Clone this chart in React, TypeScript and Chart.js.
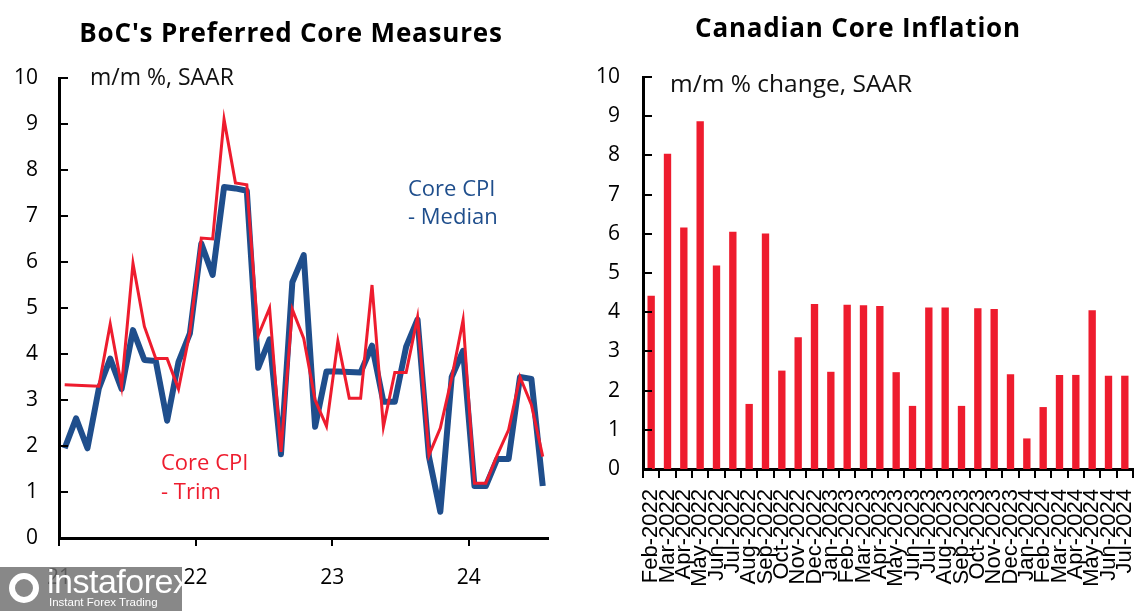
import React, { useEffect, useRef } from "react";
import { Chart, registerables } from "chart.js";

Chart.register(...registerables);

// ---------- Left panel data (monthly, Jan 2021 – Jul 2024) ----------
const months = [
  "2021-01", "2021-02", "2021-03", "2021-04", "2021-05", "2021-06", "2021-07", "2021-08", "2021-09", "2021-10", "2021-11", "2021-12",
  "2022-01", "2022-02", "2022-03", "2022-04", "2022-05", "2022-06", "2022-07", "2022-08", "2022-09", "2022-10", "2022-11", "2022-12",
  "2023-01", "2023-02", "2023-03", "2023-04", "2023-05", "2023-06", "2023-07", "2023-08", "2023-09", "2023-10", "2023-11", "2023-12",
  "2024-01", "2024-02", "2024-03", "2024-04", "2024-05", "2024-06", "2024-07",
];

const medianValues = [
  1.95, 2.6, 1.95, 3.25, 3.9, 3.24, 4.52, 3.87, 3.85, 2.55, 3.83, 4.45,
  6.4, 5.72, 7.63, 7.6, 7.55, 3.7, 4.32, 1.82, 5.56, 6.15, 2.42, 3.62,
  3.62, 3.61, 3.6, 4.18, 2.96, 2.96, 4.16, 4.75, 1.77, 0.57, 3.5, 4.07,
  1.13, 1.13, 1.72, 1.72, 3.5, 3.46, 1.13,
];

const trimValues = [
  3.33, 3.32, 3.31, 3.3, 4.65, 3.3, 5.97, 4.6, 3.9, 3.9, 3.24, 4.48,
  6.52, 6.5, 9.1, 7.72, 7.68, 4.4, 5.0, 1.87, 4.97, 4.34, 3.0, 2.43,
  4.28, 3.04, 3.04, 5.5, 2.42, 3.6, 3.6, 4.8, 1.8, 2.39, 3.48, 4.74,
  1.19, 1.19, 1.8, 2.35, 3.5, 2.9, 1.77,
];

const yearTicks = [21, 22, 23, 24];

// ---------- Right panel data ----------
const barLabels = [
  "Feb-2022", "Mar-2022", "Apr-2022", "May-2022", "Jun-2022", "Jul-2022", "Aug-2022", "Sep-2022", "Oct-2022", "Nov-2022", "Dec-2022",
  "Jan-2023", "Feb-2023", "Mar-2023", "Apr-2023", "May-2023", "Jun-2023", "Jul-2023", "Aug-2023", "Sep-2023", "Oct-2023", "Nov-2023", "Dec-2023",
  "Jan-2024", "Feb-2024", "Mar-2024", "Apr-2024", "May-2024", "Jun-2024", "Jul-2024",
];

const barValues = [
  4.42, 8.04, 6.16, 8.87, 5.19, 6.05, 1.66, 6.01, 2.51, 3.36, 4.21,
  2.48, 4.19, 4.18, 4.16, 2.47, 1.61, 4.12, 4.12, 1.61, 4.1, 4.08, 2.42,
  0.78, 1.58, 2.4, 2.4, 4.05, 2.38, 2.38,
];

const BLUE = "#1f4e8c";
const RED = "#ee1c2e";
const FONT = "'Open Sans', 'Noto Sans', sans-serif";

const toYear = (s: string) => {
  const [y, m] = s.split("-").map(Number);
  return y - 2000 + (m - 0.5) / 12;
};

type TextItem = {
  text: string;
  x: number;
  y: number;
  size: number;
  weight?: string;
  color: string;
  align: CanvasTextAlign;
  spacing?: number;
};

const textPlugin = (items: TextItem[]) => ({
  id: "texts",
  afterDraw(chart: any) {
    const ctx = chart.ctx as any;
    ctx.save();
    items.forEach((it) => {
      ctx.font = `${it.weight || "400"} ${it.size}px ${FONT}`;
      ctx.fillStyle = it.color;
      ctx.textAlign = it.align;
      ctx.textBaseline = "middle";
      ctx.letterSpacing = `${it.spacing || 0}px`;
      ctx.fillText(it.text, it.x, it.y);
    });
    ctx.letterSpacing = "0px";
    ctx.restore();
  },
});

const inwardTicks = {
  id: "inwardTicks",
  afterDraw(chart: any) {
    const { ctx, chartArea } = chart;
    const ys = chart.scales.y;
    ctx.save();
    ctx.strokeStyle = "#000";
    ctx.lineWidth = 2;
    ys.ticks.forEach((t: any) => {
      const p = Math.round(ys.getPixelForValue(t.value));
      ctx.beginPath();
      ctx.moveTo(chartArea.left, p);
      ctx.lineTo(chartArea.left + 9, p);
      ctx.stroke();
    });
    ctx.restore();
  },
};

export default function App() {
  const leftRef = useRef<HTMLCanvasElement>(null);
  const rightRef = useRef<HTMLCanvasElement>(null);

  useEffect(() => {
    document.body.style.margin = "0";
    const tickFont = { family: FONT, size: 21 };

    const left = new Chart(leftRef.current!, {
      type: "line",
      data: {
        datasets: [
          {
            label: "Core CPI - Median",
            data: months.map((m, i) => ({ x: toYear(m), y: medianValues[i] })),
            borderColor: BLUE,
            borderWidth: 6,
            pointRadius: 0,
            tension: 0,
            borderJoinStyle: "round",
            order: 2,
          },
          {
            label: "Core CPI - Trim",
            data: months.map((m, i) => ({ x: toYear(m), y: trimValues[i] })),
            borderColor: RED,
            borderWidth: 3,
            pointRadius: 0,
            tension: 0,
            order: 1,
          },
        ],
      },
      options: {
        animation: false,
        responsive: false,
        layout: { padding: { top: 78, right: 27, left: 0, bottom: 0 } },
        plugins: { legend: { display: false }, tooltip: { enabled: false }, title: { display: false } },
        scales: {
          x: {
            type: "linear",
            min: 21,
            max: 24.58,
            afterBuildTicks: (s: any) => {
              s.ticks = yearTicks.map((v) => ({ value: v }));
            },
            afterFit: (s: any) => {
              s.height = 73;
            },
            ticks: { font: tickFont, color: "#000", padding: 19, callback: (v: any) => String(v) },
            grid: { display: true, drawOnChartArea: false, drawTicks: true, tickLength: 8, color: "#000", lineWidth: 2 },
            border: { display: true, color: "#000", width: 3 },
          },
          y: {
            min: 0,
            max: 10,
            afterFit: (s: any) => {
              s.width = 59;
            },
            ticks: { stepSize: 1, font: tickFont, color: "#000", padding: 21 },
            grid: { display: false, drawTicks: false },
            border: { display: true, color: "#000", width: 3 },
          },
        },
      },
      plugins: [
        inwardTicks,
        textPlugin([
          { text: "BoC's Preferred Core Measures", x: 291, y: 35, size: 26, weight: "700", color: "#000", align: "center", spacing: 0.8 },
          { text: "m/m %, SAAR", x: 90, y: 78, size: 23, color: "#111", align: "left" },
          { text: "Core CPI", x: 408, y: 190, size: 22, color: BLUE, align: "left" },
          { text: "- Median", x: 408, y: 218, size: 22, color: BLUE, align: "left" },
          { text: "Core CPI", x: 161, y: 464, size: 22, color: RED, align: "left" },
          { text: "- Trim", x: 161, y: 493, size: 22, color: RED, align: "left" },
        ]),
      ],
    } as any);

    const right = new Chart(rightRef.current!, {
      type: "bar",
      data: {
        labels: barLabels,
        datasets: [
          {
            label: "Canadian Core Inflation",
            data: barValues,
            backgroundColor: RED,
            barPercentage: 0.9,
            categoryPercentage: 0.5,
          },
        ],
      },
      options: {
        animation: false,
        responsive: false,
        layout: { padding: { top: 77, right: 11, left: 0, bottom: 0 } },
        plugins: { legend: { display: false }, tooltip: { enabled: false }, title: { display: false } },
        scales: {
          x: {
            afterFit: (s: any) => {
              s.height = 142;
              s.paddingLeft = 0;
              s.paddingRight = 0;
            },
            ticks: {
              autoSkip: false,
              maxRotation: 90,
              minRotation: 90,
              font: { family: "'Liberation Sans', Arial, sans-serif", size: 22 },
              color: "#000",
              padding: 11,
            },
            grid: { display: true, offset: true, drawOnChartArea: false, drawTicks: true, tickLength: 9, color: "#000", lineWidth: 2 },
            border: { display: true, color: "#000", width: 3 },
          },
          y: {
            min: 0,
            max: 10,
            afterFit: (s: any) => {
              s.width = 68;
            },
            ticks: { stepSize: 1, font: tickFont, color: "#000", padding: 23 },
            grid: { display: false, drawTicks: false },
            border: { display: true, color: "#000", width: 3 },
          },
        },
      },
      plugins: [
        inwardTicks,
        textPlugin([
          { text: "Canadian Core Inflation", x: 283, y: 30, size: 26, weight: "700", color: "#000", align: "center", spacing: 0.8 },
          { text: "m/m % change, SAAR", x: 95, y: 85, size: 24.5, color: "#111", align: "left" },
        ]),
      ],
    } as any);

    return () => {
      left.destroy();
      right.destroy();
    };
  }, []);

  return (
    <div style={{ position: "fixed", left: 0, top: 0, width: 1144, height: 611, background: "#fff", overflow: "hidden" }}>
      <canvas ref={leftRef} width={575} height={611} style={{ position: "absolute", left: 0, top: 0 }} />
      <canvas ref={rightRef} width={569} height={611} style={{ position: "absolute", left: 575, top: 0 }} />
      <div
        style={{
          position: "absolute",
          left: 0,
          top: 567,
          width: 182,
          height: 44,
          background: "rgba(110,110,110,0.82)",
          color: "#fff",
          fontFamily: "'Liberation Sans', Arial, sans-serif",
        }}
      >
        <div
          style={{
            position: "absolute",
            left: 9,
            top: 6,
            width: 18,
            height: 18,
            borderRadius: "50%",
            border: "6px solid #fff",
          }}
        />
        <div style={{ position: "absolute", left: 47, top: -5, fontSize: 34, letterSpacing: -0.5 }}>instaforex</div>
        <div style={{ position: "absolute", left: 49, top: 29, fontSize: 11.5 }}>Instant Forex Trading</div>
      </div>
    </div>
  );
}
